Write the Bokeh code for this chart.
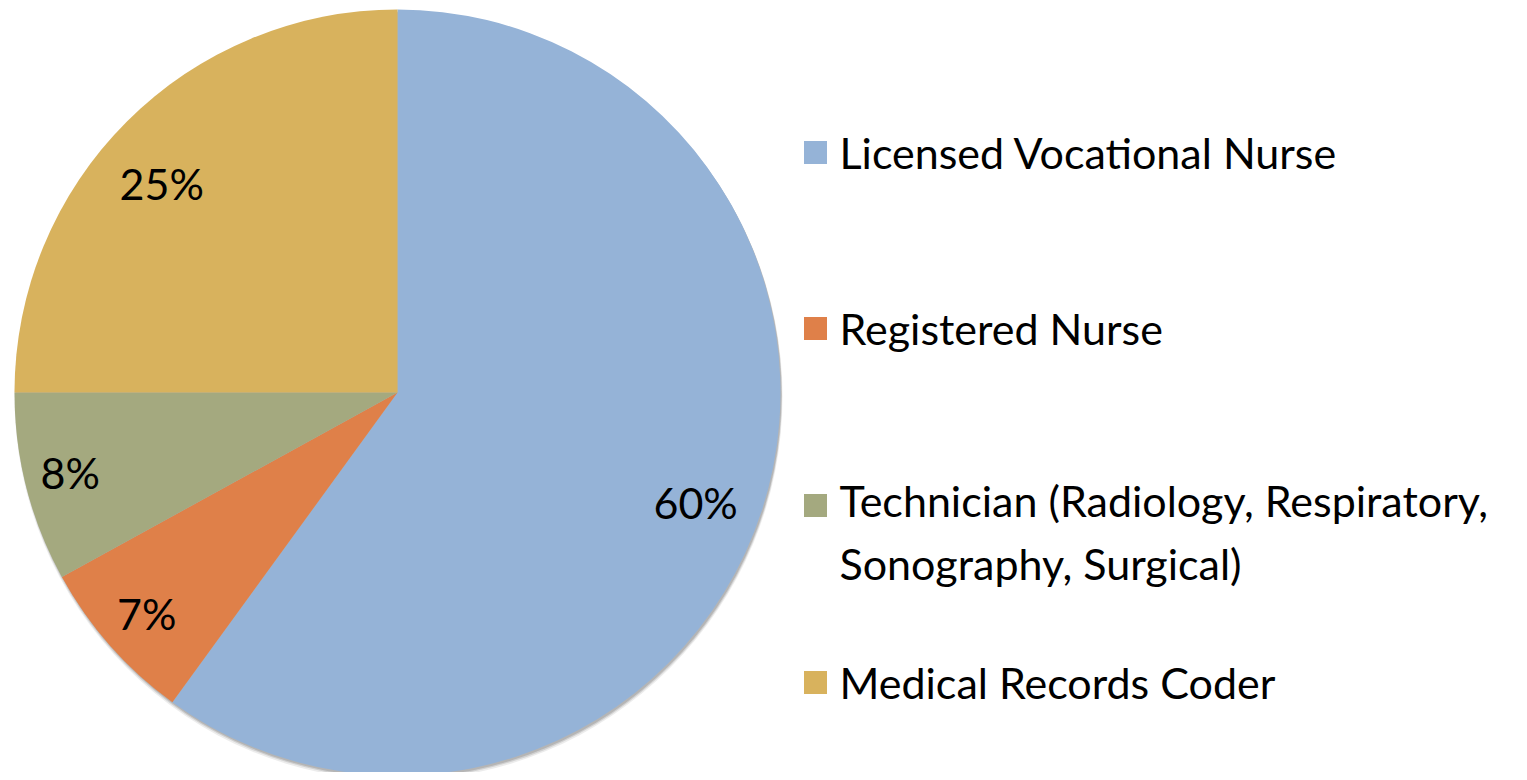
import math
from bokeh.plotting import figure
from bokeh.models import ColumnDataSource
from bokeh.core.properties import value
from bokeh.embed import file_html
from bokeh.resources import INLINE

categories = ["Licensed Vocational Nurse", "Registered Nurse",
              "Technician (Radiology, Respiratory,\nSonography, Surgical)",
              "Medical Records Coder"]
shares = [60, 7, 8, 25]
labels = ["60%", "7%", "8%", "25%"]
colors = ["#95B3D7", "#DF8049", "#A4A97F", "#D8B25D"]

W, H = 1519, 772
cx, cy, R = 397, 380, 383
label_frac = [0.83, 0.873, 0.88, 0.822]
label_shift_deg = [-2.3, 0.0, -0.6, 3.5]
FONT = "Lato"
FS = "43px"

# angles: start at top, clockwise
total = sum(shares)
starts, ends, mids = [], [], []
a = math.pi / 2
for s in shares:
    span = 2 * math.pi * s / total
    starts.append(a - span)
    ends.append(a)
    mids.append(a - span / 2)
    a -= span

src = ColumnDataSource(dict(start=starts, end=ends, color=colors))

p = figure(width=W, height=H, x_range=(0, W), y_range=(0, H),
           output_backend="svg", toolbar_location=None, min_border=0)
p.axis.visible = False
p.grid.visible = False
p.outline_line_color = None
p.background_fill_color = "white"

# soft drop shadow
for off, rad, alpha in [(4, R + 1, 0.15), (3, R + 0.5, 0.25), (2, R, 0.35)]:
    p.circle(x=[cx + 1], y=[cy - off], radius=rad, fill_color="#808080",
             line_color=None, fill_alpha=alpha)
p.wedge(x=cx, y=cy, radius=R, start_angle="start", end_angle="end",
        fill_color="color", line_color=None, source=src)

lx = [cx + R * f * math.cos(m + math.radians(d))
      for f, m, d in zip(label_frac, mids, label_shift_deg)]
ly = [cy + R * f * math.sin(m + math.radians(d))
      for f, m, d in zip(label_frac, mids, label_shift_deg)]
p.text(x=lx, y=ly, text=labels, text_font=value(FONT), text_font_size=FS,
       text_align="center", text_baseline="middle", text_color="black")

# legend
leg_y = [620, 444, 240.5, 90]
sq = 23
p.rect(x=[815] * 4, y=[leg_y[0], leg_y[1], leg_y[2] + 26.5, leg_y[3]],
       width=sq, height=sq, fill_color=colors, line_color=None)
p.text(x=[839] * 4, y=leg_y, text=categories, text_font=value(FONT),
       text_font_size=FS, text_align="left", text_baseline="middle",
       text_color="black", text_line_height=1.23)

open("out.html", "w").write(file_html(p, INLINE))
